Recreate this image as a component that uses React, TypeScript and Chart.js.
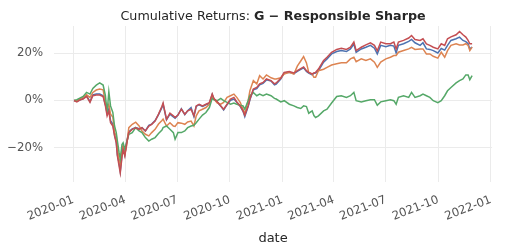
import React, { useEffect, useRef } from "react";
import { Chart, registerables } from "chart.js";

Chart.register(...registerables);

const dates = [
  "2020-01-02","2020-01-07","2020-01-13","2020-01-18","2020-01-24","2020-01-30","2020-02-04","2020-02-10","2020-02-16","2020-02-22",
  "2020-02-26","2020-02-29","2020-03-03","2020-03-06","2020-03-10","2020-03-13","2020-03-16","2020-03-18","2020-03-21","2020-03-23",
  "2020-03-26","2020-03-28","2020-03-31","2020-04-03","2020-04-07","2020-04-13","2020-04-19","2020-04-25","2020-04-30","2020-05-06",
  "2020-05-12","2020-05-17","2020-05-23","2020-05-29","2020-06-04","2020-06-06","2020-06-12","2020-06-18","2020-06-24","2020-06-27",
  "2020-07-02","2020-07-08","2020-07-14","2020-07-19","2020-07-25","2020-07-30","2020-08-03","2020-08-08","2020-08-14","2020-08-20",
  "2020-08-26","2020-08-31","2020-09-03","2020-09-09","2020-09-15","2020-09-20","2020-09-26","2020-10-02","2020-10-08","2020-10-13",
  "2020-10-19","2020-10-24","2020-10-27","2020-11-02","2020-11-05","2020-11-11","2020-11-17","2020-11-22","2020-11-28","2020-12-04",
  "2020-12-12","2020-12-18","2020-12-21","2020-12-29","2021-01-04","2021-01-13","2021-01-21","2021-01-27","2021-02-02","2021-02-07",
  "2021-02-12","2021-02-16","2021-02-22","2021-02-25","2021-02-28","2021-03-05","2021-03-14","2021-03-20","2021-03-28","2021-04-06",
  "2021-04-14","2021-04-23","2021-04-30","2021-05-06","2021-05-10","2021-05-19","2021-05-27","2021-06-04","2021-06-11","2021-06-16",
  "2021-06-22","2021-07-01","2021-07-09","2021-07-15","2021-07-19","2021-07-23","2021-08-01","2021-08-10","2021-08-15","2021-08-21",
  "2021-08-30","2021-09-04","2021-09-10","2021-09-16","2021-09-22","2021-09-30","2021-10-06","2021-10-12","2021-10-17","2021-10-23",
  "2021-11-01","2021-11-07","2021-11-13","2021-11-18","2021-11-22","2021-11-25","2021-11-29"
];

const blueSeries = [
  0,-0.3,0.3,0.8,2.0,-0.5,2.4,2.7,2.7,2.0,
  -1.8,-5.5,-3.5,-8.5,-10,-14.5,-17.5,-23,-26.5,-29.9,
  -23,-20,-23,-18,-13.2,-12,-11.5,-12,-11.5,-12.9,
  -10.5,-10,-8.5,-6,-3,-1.6,-8.2,-5.8,-7,-7.5,
  -6.2,-3.5,-6,-4.4,-3.0,-6.8,-2.5,-1.8,-2.5,-1.8,
  -1.3,2.5,0.6,-0.8,-2.4,-4.0,-1.8,0.1,0.6,-0.8,
  -2.5,-4.6,-6.8,-2.5,0.3,4.5,5.0,6.6,7.2,8.7,
  8.2,6.6,6.9,9.1,11.6,11.9,11.3,12.3,13.2,13.8,
  12.3,11.6,10.8,11.5,11.6,12.6,16.2,17.6,19.7,20.7,
  21.1,20.7,21.8,23.9,20.4,21.8,22.5,23.3,22.1,19.7,
  23.3,22.7,23.3,23.0,20.1,23.3,24.0,25.0,25.8,24.4,
  23.3,24.4,21.8,21.6,21.1,20.1,22.0,21.3,23.3,25.4,
  26.1,26.8,25.4,24.9,24.0,21.8,22.6
];

const orangeSeries = [
  0,0,0.8,1.4,2.4,1.3,3.4,4.4,4.8,4.5,
  -0.8,-3.5,-1.6,-5.8,-7,-13.6,-15,-20.4,-25,-27,
  -20.4,-19,-22.7,-19.3,-11.5,-10.1,-9.2,-10.8,-12.9,-14.3,
  -15,-13.6,-12.2,-10,-8.5,-7.9,-10.8,-9.4,-10.8,-11,
  -9.4,-9.6,-10.1,-9.1,-8.7,-10.8,-6.5,-4.4,-3.7,-3.0,
  -1.6,2.0,0.6,-1.1,-1.6,-0.8,1.3,2.0,2.7,1.3,
  -0.8,-3.7,-5.8,0,4.1,8.4,7.0,10.5,9.1,10.8,
  9.6,9.1,9.1,9.6,11.2,11.9,11.2,14.5,16.7,18.6,
  15.9,11.9,11.2,9.8,9.8,12.6,13.2,14.0,15.0,15.5,
  15.9,15.9,17.6,18.3,16.4,17.6,16.9,17.6,16.2,14.0,
  16.2,17.6,18.3,19.0,19.0,20.4,21.1,21.8,22.5,21.6,
  21.8,21.8,19.7,19.7,18.7,17.9,20.4,18.3,21.1,23.3,
  24.0,23.5,23.5,24.0,23.3,21.1,22.6
];

const greenSeries = [
  0,0.3,1.1,1.7,3.4,2.7,5.1,6.5,7.4,6.5,
  2.0,-5.1,3.7,-2.3,-5.1,-10.8,-13.6,-17.2,-22.1,-24.8,
  -18.6,-17.9,-20.6,-17.9,-14.3,-13.6,-11.5,-12.9,-13.6,-15.7,
  -17.2,-16.4,-15.7,-14,-12.5,-11.5,-10.8,-12.2,-13.6,-16.4,
  -13.6,-13.6,-12.9,-11.5,-10.8,-10.5,-9.4,-7.9,-6.2,-5.1,
  -3.0,0.9,0.3,-0.1,0.9,-0.1,-0.8,-1.6,-1.1,-1.6,
  -2.0,-2.3,-3.7,0,2.0,3.4,2.0,2.7,2.0,2.7,
  2.0,0.9,0.6,-0.6,-0.1,-1.6,-2.3,-3.0,-3.4,-2.3,
  -2.6,-5.4,-4.4,-6.4,-7.2,-6.5,-4.4,-3.7,-1.1,1.7,
  2.0,1.3,2.0,3.4,-0.1,-0.6,-0.1,0.3,0.3,-2.0,
  -0.6,-0.1,0.3,-0.1,-1.6,1.3,2.0,1.3,3.4,1.3,
  2.0,2.7,2.0,1.3,-0.1,-0.9,-0.1,2.0,4.1,5.5,
  7.4,8.4,9.1,10.8,10.8,8.8,10.5
];

const redSeries = [
  0,-0.6,0.3,0.6,1.7,-0.8,2.0,2.3,2.3,1.7,
  -2.3,-6.5,-4.5,-9.4,-10.8,-15,-17.9,-23.5,-27.8,-30.6,
  -24,-20.7,-23.5,-18.6,-13.6,-12.2,-11.6,-12.2,-11.5,-12.9,
  -10.8,-10.1,-8.7,-5.8,-2.5,-1.1,-8,-5.4,-6.5,-7.2,
  -6.2,-3.7,-5.8,-4.4,-3.7,-6.5,-2.3,-1.6,-2.3,-1.6,
  -0.9,2.7,0.8,-0.6,-2.3,-3.7,-1.6,0.6,1.3,-0.6,
  -2.3,-4.4,-6.2,-2.3,0.6,4.8,5.5,7.0,7.6,9.1,
  8.4,7.0,7.4,9.4,11.9,12.2,11.6,12.6,13.5,14.2,
  12.6,11.9,11.2,11.6,11.9,13.3,16.9,18.3,20.4,21.6,
  22.1,21.6,22.5,24.7,21.1,22.5,23.5,24.4,23.3,21.0,
  24.7,24.0,24.0,24.7,21.8,24.7,25.4,26.4,27.5,25.8,
  25.4,26.1,23.9,23.3,22.5,21.8,24.0,23.3,26.1,26.9,
  27.8,29.2,27.8,26.8,25.4,24.0,24.0
];

const xTickLabels = ["2020-01","2020-04","2020-07","2020-10","2021-01","2021-04","2021-07","2021-10","2022-01"];
const yTickValues = [-20, 0, 20];

const TITLE_NORMAL = "Cumulative Returns: ";
const TITLE_BOLD = "G \u2212 Responsible Sharpe";

const BASE = Date.UTC(2020, 0, 1);
function toDay(s: string): number {
  const p = s.split("-").map(Number);
  return (Date.UTC(p[0], p[1] - 1, p[2] || 1) - BASE) / 86400000;
}

const FONT = "'DejaVu Sans', Verdana, sans-serif";

const titlePlugin = {
  id: "mixedTitle",
  beforeDraw(chart: any) {
    const { ctx, width, height } = chart;
    ctx.save();
    ctx.fillStyle = "#ffffff";
    ctx.fillRect(0, 0, width, height);
    ctx.restore();
  },
  afterDraw(chart: any) {
    const { ctx, chartArea } = chart;
    ctx.save();
    const normal = `12.7px ${FONT}`;
    const bold = `bold 12.7px ${FONT}`;
    ctx.font = normal;
    const wa = ctx.measureText(TITLE_NORMAL).width;
    ctx.font = bold;
    const wb = ctx.measureText(TITLE_BOLD).width;
    const cx = (chartArea.left + chartArea.right) / 2;
    const x0 = cx - (wa + wb) / 2;
    ctx.textBaseline = "alphabetic";
    ctx.textAlign = "left";
    ctx.fillStyle = "#262626";
    ctx.font = normal;
    ctx.fillText(TITLE_NORMAL, x0, 19.5);
    ctx.font = bold;
    ctx.fillText(TITLE_BOLD, x0 + wa, 19.5);
    ctx.restore();
  },
};

export default function App() {
  const ref = useRef<HTMLCanvasElement | null>(null);

  useEffect(() => {
    if (!ref.current) return;
    const xs = dates.map(toDay);
    const mk = (label: string, vals: number[], color: string, order: number) => ({
      label,
      data: vals.map((v, i) => ({ x: xs[i], y: v })),
      borderColor: color,
      backgroundColor: color,
      borderWidth: 1.5,
      pointRadius: 0,
      tension: 0,
      fill: false,
      order,
    });
    const chart = new Chart(ref.current, {
      type: "line",
      data: {
        datasets: [
          mk("Series 1", blueSeries, "#4C72B0", 4),
          mk("Series 2", orangeSeries, "#DD8452", 3),
          mk("Series 3", greenSeries, "#55A868", 2),
          mk("Series 4", redSeries, "#C44E52", 1),
        ],
      },
      options: {
        responsive: false,
        animation: false,
        layout: { padding: { top: 26, right: 7, left: 0, bottom: 0 } },
        plugins: {
          legend: { display: false },
          title: { display: false },
          tooltip: { enabled: false },
        },
        scales: {
          x: {
            type: "linear",
            min: -34,
            max: 733,
            afterBuildTicks: (s: any) => {
              s.ticks = xTickLabels.map((l) => ({ value: toDay(l) }));
            },
            afterFit: (s: any) => {
              s.height = 70;
            },
            grid: { color: "#ebebeb", drawTicks: false, lineWidth: 1 },
            border: { display: false },
            ticks: {
              autoSkip: false,
              minRotation: 21,
              maxRotation: 21,
              padding: 11,
              color: "#555555",
              font: { family: FONT, size: 11.7 },
              callback: (_v: any, i: number) => xTickLabels[i],
            },
            title: {
              display: true,
              text: "date",
              color: "#262626",
              font: { family: FONT, size: 13 },
              padding: { top: 0, bottom: 6 },
            },
          },
          y: {
            min: -34.5,
            max: 31.5,
            afterBuildTicks: (s: any) => {
              s.ticks = yTickValues.map((v) => ({ value: v }));
            },
            afterFit: (s: any) => {
              s.width = 54;
            },
            grid: { color: "#ebebeb", drawTicks: false, lineWidth: 1 },
            border: { display: false },
            ticks: {
              padding: 11,
              color: "#555555",
              font: { family: FONT, size: 11.7 },
              callback: (v: any) => (v < 0 ? "\u2212" : "") + Math.abs(v) + "%",
            },
          },
        },
      },
      plugins: [titlePlugin],
    } as any);
    return () => chart.destroy();
  }, []);

  return (
    <div style={{ position: "absolute", left: 0, top: 0, width: 507, height: 252, background: "#fff" }}>
      <canvas ref={ref} width={507} height={252} style={{ display: "block", width: 507, height: 252 }} />
    </div>
  );
}
